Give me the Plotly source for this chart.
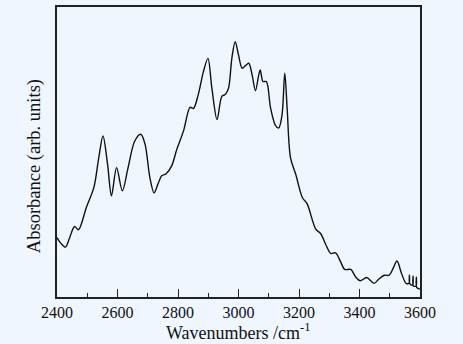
import plotly.graph_objects as go

wavenumber = [2400, 2413, 2428, 2441, 2458, 2471, 2497, 2522, 2538, 2552, 2567, 2580, 2597, 2616,
              2635, 2657, 2677, 2691, 2707, 2721, 2734, 2746, 2760, 2779, 2796, 2818, 2840, 2851,
              2867, 2884, 2899, 2912, 2929, 2945, 2956, 2967, 2978, 2989, 3000, 3012, 3023, 3034,
              3045, 3056, 3067, 3072, 3081, 3092, 3106, 3122, 3133, 3144, 3153, 3161, 3172, 3189,
              3211, 3227, 3255, 3272, 3288, 3305, 3321, 3338, 3351, 3371, 3388, 3402, 3424, 3448,
              3464, 3482, 3498, 3511, 3524, 3539, 3554, 3564, 3565, 3566, 3576, 3577, 3578, 3587,
              3588, 3589, 3600]
absorbance = [0.205, 0.185, 0.172, 0.202, 0.243, 0.232, 0.309, 0.378, 0.480, 0.555, 0.459, 0.349,
              0.446, 0.366, 0.446, 0.538, 0.561, 0.527, 0.412, 0.359, 0.390, 0.418, 0.424, 0.452,
              0.509, 0.572, 0.654, 0.650, 0.698, 0.777, 0.823, 0.720, 0.612, 0.692, 0.698, 0.720,
              0.823, 0.880, 0.835, 0.789, 0.798, 0.806, 0.766, 0.711, 0.766, 0.783, 0.743, 0.743,
              0.652, 0.592, 0.583, 0.629, 0.772, 0.647, 0.480, 0.424, 0.343, 0.321, 0.235, 0.218,
              0.182, 0.150, 0.152, 0.120, 0.095, 0.095, 0.068, 0.056, 0.067, 0.047, 0.062, 0.075,
              0.075, 0.099, 0.124, 0.081, 0.047, 0.048, 0.075, 0.046, 0.041, 0.072, 0.038, 0.038,
              0.068, 0.033, 0.027]

x_ticks = [2400, 2600, 2800, 3000, 3200, 3400, 3600]
x_tick_labels = ["2400", "2600", "2800", "3000", "3200", "3400", "3600"]

BG = "#eff6fe"
FONT = "Liberation Serif"

fig = go.Figure()
fig.add_trace(go.Scatter(
    x=wavenumber, y=absorbance, mode="lines",
    line=dict(color="#111111", width=1.4, shape="spline", smoothing=0.9),
    hoverinfo="skip", showlegend=False,
))

fig.update_layout(
    width=463, height=344,
    margin=dict(l=57, r=43, t=5, b=47),
    paper_bgcolor=BG, plot_bgcolor=BG,
    font=dict(family=FONT, size=16, color="#111111"),
    showlegend=False,
)
fig.update_xaxes(
    range=[2400, 3600], tickmode="array", tickvals=x_ticks, ticktext=x_tick_labels,
    ticks="inside", ticklen=8, tickwidth=1.2, tickcolor="#222222",
    minor=dict(ticks="inside", ticklen=4, tickwidth=1.2, tickcolor="#222222", dtick=100,
               tick0=2400, showgrid=False),
    showline=True, linecolor="#222222", linewidth=1.6, mirror=True,
    showgrid=False, zeroline=False, tickfont=dict(family=FONT, size=16, color="#111111"),
)
fig.update_yaxes(
    range=[0, 1], showticklabels=False, ticks="",
    showline=True, linecolor="#222222", linewidth=1.6, mirror=True,
    showgrid=False, zeroline=False,
)
fig.add_annotation(
    text="Wavenumbers /cm<sup>-1</sup>", xref="paper", yref="paper",
    x=0.5, y=-0.165, xanchor="center", yanchor="bottom", showarrow=False,
    font=dict(family=FONT, size=18, color="#111111"),
)
fig.add_annotation(
    text="Absorbance (arb. units)", xref="paper", yref="paper",
    x=-0.06, y=0.452, xanchor="center", yanchor="middle", showarrow=False, textangle=-90,
    font=dict(family=FONT, size=18.5, color="#111111"),
)

fig.write_html("out.html")
